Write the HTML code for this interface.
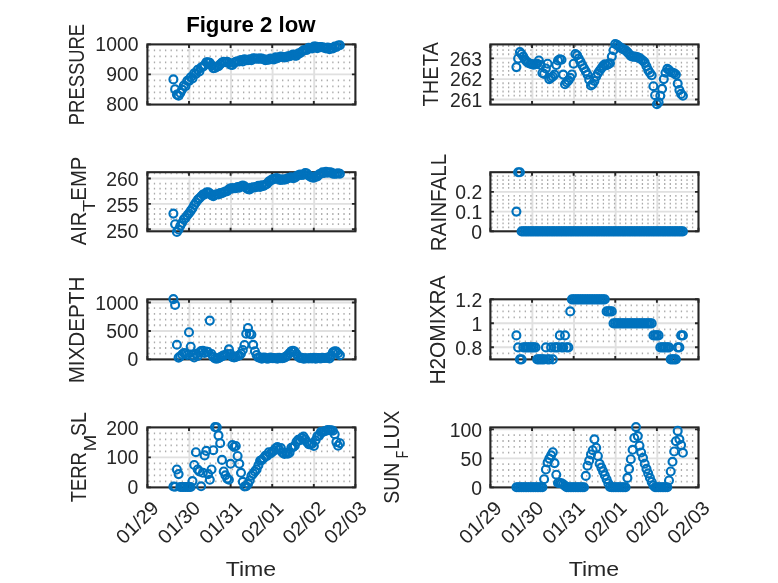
<!DOCTYPE html>
<html lang="en"><head><meta charset="utf-8"><title>Figure 2 low</title>
<style>html,body{margin:0;padding:0;background:#fff;overflow:hidden}svg{display:block}</style></head>
<body>
<svg width="778" height="583" viewBox="0 0 778 583" font-family='"Liberation Sans", "DejaVu Sans", sans-serif' fill="#262626">
<rect width="778" height="583" fill="#fff"/>
<g style="will-change:opacity">
<g>
<path d="M189.40 44.40V104.55M231.00 44.40V104.55M272.60 44.40V104.55M314.20 44.40V104.55M147.40 74.40H355.40" stroke="#e0e0e0" stroke-width="1.9" fill="none"/>
<path d="M148.25 50.40H354.20M148.25 56.40H354.20M148.25 62.40H354.20M148.25 68.40H354.20M148.25 80.40H354.20M148.25 86.40H354.20M148.25 92.40H354.20M148.25 98.40H354.20" stroke="#ababab" stroke-width="1.8" stroke-dasharray="1.3 4.275" fill="none"/>
<rect x="147.40" y="44.40" width="208.00" height="60.15" fill="none" stroke="#262626" stroke-width="2.1"/>
<path d="M147.40 44.40v3.5M147.40 104.55v-3.5M189.00 44.40v3.5M189.00 104.55v-3.5M230.60 44.40v3.5M230.60 104.55v-3.5M272.20 44.40v3.5M272.20 104.55v-3.5M313.80 44.40v3.5M313.80 104.55v-3.5M355.40 44.40v3.5M355.40 104.55v-3.5M147.40 44.40h3.5M355.40 44.40h-3.5M147.40 74.40h3.5M355.40 74.40h-3.5M147.40 104.40h3.5M355.40 104.40h-3.5" stroke="#262626" stroke-width="1.9" fill="none"/>
<g fill="none" stroke="#0072bd" stroke-width="2.15"><circle cx="173.4" cy="79.4" r="3.96"/><circle cx="175.1" cy="89.2" r="3.96"/><circle cx="176.9" cy="94.6" r="3.96"/><circle cx="178.6" cy="95.8" r="3.96"/><circle cx="180.3" cy="92.9" r="3.96"/><circle cx="182.1" cy="89.6" r="3.96"/><circle cx="183.8" cy="85.5" r="3.96"/><circle cx="185.5" cy="86.2" r="3.96"/><circle cx="187.3" cy="80.7" r="3.96"/><circle cx="189.0" cy="80.9" r="3.96"/><circle cx="190.7" cy="77.3" r="3.96"/><circle cx="192.5" cy="78.4" r="3.96"/><circle cx="194.2" cy="73.3" r="3.96"/><circle cx="195.9" cy="74.0" r="3.96"/><circle cx="197.7" cy="69.9" r="3.96"/><circle cx="199.4" cy="71.5" r="3.96"/><circle cx="201.1" cy="67.5" r="3.96"/><circle cx="202.9" cy="66.7" r="3.96"/><circle cx="204.6" cy="65.1" r="3.96"/><circle cx="206.3" cy="62.2" r="3.96"/><circle cx="208.1" cy="62.2" r="3.96"/><circle cx="209.8" cy="62.8" r="3.96"/><circle cx="211.5" cy="65.4" r="3.96"/><circle cx="213.3" cy="68.1" r="3.96"/><circle cx="215.0" cy="68.0" r="3.96"/><circle cx="216.8" cy="66.8" r="3.96"/><circle cx="218.5" cy="66.2" r="3.96"/><circle cx="220.2" cy="64.2" r="3.96"/><circle cx="222.0" cy="62.6" r="3.96"/><circle cx="223.7" cy="61.7" r="3.96"/><circle cx="225.4" cy="62.3" r="3.96"/><circle cx="227.2" cy="61.9" r="3.96"/><circle cx="228.9" cy="62.7" r="3.96"/><circle cx="230.6" cy="64.7" r="3.96"/><circle cx="232.4" cy="65.0" r="3.96"/><circle cx="234.1" cy="62.7" r="3.96"/><circle cx="235.8" cy="61.9" r="3.96"/><circle cx="237.6" cy="61.2" r="3.96"/><circle cx="239.3" cy="61.4" r="3.96"/><circle cx="241.0" cy="60.1" r="3.96"/><circle cx="242.8" cy="61.5" r="3.96"/><circle cx="244.5" cy="59.4" r="3.96"/><circle cx="246.2" cy="60.1" r="3.96"/><circle cx="248.0" cy="60.1" r="3.96"/><circle cx="249.7" cy="59.2" r="3.96"/><circle cx="251.4" cy="60.3" r="3.96"/><circle cx="253.2" cy="58.4" r="3.96"/><circle cx="254.9" cy="58.5" r="3.96"/><circle cx="256.6" cy="58.8" r="3.96"/><circle cx="258.4" cy="58.6" r="3.96"/><circle cx="260.1" cy="58.6" r="3.96"/><circle cx="261.8" cy="58.5" r="3.96"/><circle cx="263.6" cy="59.2" r="3.96"/><circle cx="265.3" cy="60.2" r="3.96"/><circle cx="267.0" cy="59.6" r="3.96"/><circle cx="268.8" cy="59.8" r="3.96"/><circle cx="270.5" cy="58.6" r="3.96"/><circle cx="272.2" cy="59.1" r="3.96"/><circle cx="274.0" cy="59.4" r="3.96"/><circle cx="275.7" cy="57.3" r="3.96"/><circle cx="277.4" cy="58.2" r="3.96"/><circle cx="279.2" cy="57.3" r="3.96"/><circle cx="280.9" cy="56.6" r="3.96"/><circle cx="282.6" cy="57.0" r="3.96"/><circle cx="284.4" cy="57.5" r="3.96"/><circle cx="286.1" cy="57.1" r="3.96"/><circle cx="287.8" cy="56.4" r="3.96"/><circle cx="289.6" cy="56.2" r="3.96"/><circle cx="291.3" cy="55.5" r="3.96"/><circle cx="293.0" cy="54.6" r="3.96"/><circle cx="294.8" cy="55.6" r="3.96"/><circle cx="296.5" cy="55.6" r="3.96"/><circle cx="298.2" cy="53.6" r="3.96"/><circle cx="300.0" cy="53.1" r="3.96"/><circle cx="301.7" cy="51.7" r="3.96"/><circle cx="303.5" cy="50.2" r="3.96"/><circle cx="305.2" cy="49.8" r="3.96"/><circle cx="306.9" cy="50.0" r="3.96"/><circle cx="308.7" cy="47.8" r="3.96"/><circle cx="310.4" cy="48.0" r="3.96"/><circle cx="312.1" cy="48.4" r="3.96"/><circle cx="313.9" cy="46.5" r="3.96"/><circle cx="315.6" cy="46.5" r="3.96"/><circle cx="317.3" cy="48.1" r="3.96"/><circle cx="319.1" cy="47.0" r="3.96"/><circle cx="320.8" cy="47.1" r="3.96"/><circle cx="322.5" cy="47.3" r="3.96"/><circle cx="324.3" cy="47.8" r="3.96"/><circle cx="326.0" cy="48.4" r="3.96"/><circle cx="327.7" cy="47.6" r="3.96"/><circle cx="329.5" cy="49.3" r="3.96"/><circle cx="331.2" cy="48.1" r="3.96"/><circle cx="332.9" cy="48.4" r="3.96"/><circle cx="334.7" cy="46.6" r="3.96"/><circle cx="336.4" cy="47.0" r="3.96"/><circle cx="338.1" cy="45.5" r="3.96"/><circle cx="339.9" cy="45.2" r="3.96"/></g>
</g>
<text transform="translate(95.34 51.05) scale(0.9850 1.0000)" font-size="19.7">1000</text>
<text transform="translate(106.18 81.10) scale(0.9850 1.0000)" font-size="19.7">900</text>
<text transform="translate(106.18 110.95) scale(0.9850 1.0000)" font-size="19.7">800</text>
<g>
<path d="M189.40 172.20V231.30M231.00 172.20V231.30M272.60 172.20V231.30M314.20 172.20V231.30M147.40 178.50H355.40M147.40 203.85H355.40M147.40 229.20H355.40" stroke="#e0e0e0" stroke-width="1.9" fill="none"/>
<path d="M148.25 173.43H354.20M148.25 183.57H354.20M148.25 188.64H354.20M148.25 193.71H354.20M148.25 198.78H354.20M148.25 208.92H354.20M148.25 213.99H354.20M148.25 219.06H354.20M148.25 224.13H354.20" stroke="#ababab" stroke-width="1.8" stroke-dasharray="1.3 4.275" fill="none"/>
<rect x="147.40" y="172.20" width="208.00" height="59.10" fill="none" stroke="#262626" stroke-width="2.1"/>
<path d="M147.40 172.20v3.5M147.40 231.30v-3.5M189.00 172.20v3.5M189.00 231.30v-3.5M230.60 172.20v3.5M230.60 231.30v-3.5M272.20 172.20v3.5M272.20 231.30v-3.5M313.80 172.20v3.5M313.80 231.30v-3.5M355.40 172.20v3.5M355.40 231.30v-3.5M147.40 178.50h3.5M355.40 178.50h-3.5M147.40 203.85h3.5M355.40 203.85h-3.5M147.40 229.20h3.5M355.40 229.20h-3.5" stroke="#262626" stroke-width="1.9" fill="none"/>
<g fill="none" stroke="#0072bd" stroke-width="2.15"><circle cx="173.4" cy="213.6" r="3.96"/><circle cx="175.1" cy="224.2" r="3.96"/><circle cx="176.9" cy="231.9" r="3.96"/><circle cx="178.6" cy="229.5" r="3.96"/><circle cx="180.3" cy="225.8" r="3.96"/><circle cx="182.1" cy="222.8" r="3.96"/><circle cx="183.8" cy="219.4" r="3.96"/><circle cx="185.5" cy="218.0" r="3.96"/><circle cx="187.3" cy="215.3" r="3.96"/><circle cx="189.0" cy="213.3" r="3.96"/><circle cx="190.7" cy="210.9" r="3.96"/><circle cx="192.5" cy="208.3" r="3.96"/><circle cx="194.2" cy="205.0" r="3.96"/><circle cx="195.9" cy="202.5" r="3.96"/><circle cx="197.7" cy="199.9" r="3.96"/><circle cx="199.4" cy="198.2" r="3.96"/><circle cx="201.1" cy="196.5" r="3.96"/><circle cx="202.9" cy="194.5" r="3.96"/><circle cx="204.6" cy="194.5" r="3.96"/><circle cx="206.3" cy="192.6" r="3.96"/><circle cx="208.1" cy="192.4" r="3.96"/><circle cx="209.8" cy="193.2" r="3.96"/><circle cx="211.5" cy="195.2" r="3.96"/><circle cx="213.3" cy="196.1" r="3.96"/><circle cx="215.0" cy="194.8" r="3.96"/><circle cx="216.8" cy="194.3" r="3.96"/><circle cx="218.5" cy="194.4" r="3.96"/><circle cx="220.2" cy="193.0" r="3.96"/><circle cx="222.0" cy="193.3" r="3.96"/><circle cx="223.7" cy="192.3" r="3.96"/><circle cx="225.4" cy="191.5" r="3.96"/><circle cx="227.2" cy="191.1" r="3.96"/><circle cx="228.9" cy="189.4" r="3.96"/><circle cx="230.6" cy="188.3" r="3.96"/><circle cx="232.4" cy="188.4" r="3.96"/><circle cx="234.1" cy="188.3" r="3.96"/><circle cx="235.8" cy="188.2" r="3.96"/><circle cx="237.6" cy="187.1" r="3.96"/><circle cx="239.3" cy="187.6" r="3.96"/><circle cx="241.0" cy="186.2" r="3.96"/><circle cx="242.8" cy="185.6" r="3.96"/><circle cx="244.5" cy="186.2" r="3.96"/><circle cx="246.2" cy="187.9" r="3.96"/><circle cx="248.0" cy="189.3" r="3.96"/><circle cx="249.7" cy="189.4" r="3.96"/><circle cx="251.4" cy="187.7" r="3.96"/><circle cx="253.2" cy="187.3" r="3.96"/><circle cx="254.9" cy="187.5" r="3.96"/><circle cx="256.6" cy="186.9" r="3.96"/><circle cx="258.4" cy="185.9" r="3.96"/><circle cx="260.1" cy="186.9" r="3.96"/><circle cx="261.8" cy="185.3" r="3.96"/><circle cx="263.6" cy="185.9" r="3.96"/><circle cx="265.3" cy="184.7" r="3.96"/><circle cx="267.0" cy="183.9" r="3.96"/><circle cx="268.8" cy="181.6" r="3.96"/><circle cx="270.5" cy="180.6" r="3.96"/><circle cx="272.2" cy="179.3" r="3.96"/><circle cx="274.0" cy="179.1" r="3.96"/><circle cx="275.7" cy="178.2" r="3.96"/><circle cx="277.4" cy="178.2" r="3.96"/><circle cx="279.2" cy="179.7" r="3.96"/><circle cx="280.9" cy="179.9" r="3.96"/><circle cx="282.6" cy="179.4" r="3.96"/><circle cx="284.4" cy="179.7" r="3.96"/><circle cx="286.1" cy="179.3" r="3.96"/><circle cx="287.8" cy="178.3" r="3.96"/><circle cx="289.6" cy="177.7" r="3.96"/><circle cx="291.3" cy="177.2" r="3.96"/><circle cx="293.0" cy="178.2" r="3.96"/><circle cx="294.8" cy="177.6" r="3.96"/><circle cx="296.5" cy="176.4" r="3.96"/><circle cx="298.2" cy="175.2" r="3.96"/><circle cx="300.0" cy="174.5" r="3.96"/><circle cx="301.7" cy="174.9" r="3.96"/><circle cx="303.5" cy="174.8" r="3.96"/><circle cx="305.2" cy="173.0" r="3.96"/><circle cx="306.9" cy="173.6" r="3.96"/><circle cx="308.7" cy="175.5" r="3.96"/><circle cx="310.4" cy="176.6" r="3.96"/><circle cx="312.1" cy="177.5" r="3.96"/><circle cx="313.9" cy="177.8" r="3.96"/><circle cx="315.6" cy="176.4" r="3.96"/><circle cx="317.3" cy="176.5" r="3.96"/><circle cx="319.1" cy="174.3" r="3.96"/><circle cx="320.8" cy="173.8" r="3.96"/><circle cx="322.5" cy="172.4" r="3.96"/><circle cx="324.3" cy="172.9" r="3.96"/><circle cx="326.0" cy="171.8" r="3.96"/><circle cx="327.7" cy="172.6" r="3.96"/><circle cx="329.5" cy="172.2" r="3.96"/><circle cx="331.2" cy="172.5" r="3.96"/><circle cx="332.9" cy="173.6" r="3.96"/><circle cx="334.7" cy="173.7" r="3.96"/><circle cx="336.4" cy="173.8" r="3.96"/><circle cx="338.1" cy="173.2" r="3.96"/><circle cx="339.9" cy="173.8" r="3.96"/></g>
</g>
<text transform="translate(106.18 186.25) scale(0.9850 1.0000)" font-size="19.7">260</text>
<text transform="translate(106.18 211.65) scale(0.9850 1.0000)" font-size="19.7">255</text>
<text transform="translate(106.18 237.65) scale(0.9850 1.0000)" font-size="19.7">250</text>
<g>
<path d="M189.40 299.30V359.40M231.00 299.30V359.40M272.60 299.30V359.40M314.20 299.30V359.40M147.40 302.50H355.40M147.40 330.95H355.40" stroke="#e0e0e0" stroke-width="1.9" fill="none"/>
<path d="M148.25 308.19H354.20M148.25 313.88H354.20M148.25 319.57H354.20M148.25 325.26H354.20M148.25 336.64H354.20M148.25 342.33H354.20M148.25 348.02H354.20M148.25 353.71H354.20" stroke="#ababab" stroke-width="1.8" stroke-dasharray="1.3 4.275" fill="none"/>
<rect x="147.40" y="299.30" width="208.00" height="60.10" fill="none" stroke="#262626" stroke-width="2.1"/>
<path d="M147.40 299.30v3.5M147.40 359.40v-3.5M189.00 299.30v3.5M189.00 359.40v-3.5M230.60 299.30v3.5M230.60 359.40v-3.5M272.20 299.30v3.5M272.20 359.40v-3.5M313.80 299.30v3.5M313.80 359.40v-3.5M355.40 299.30v3.5M355.40 359.40v-3.5M147.40 302.50h3.5M355.40 302.50h-3.5M147.40 330.95h3.5M355.40 330.95h-3.5M147.40 359.40h3.5M355.40 359.40h-3.5" stroke="#262626" stroke-width="1.9" fill="none"/>
<g fill="none" stroke="#0072bd" stroke-width="2.15"><circle cx="173.4" cy="299.1" r="3.96"/><circle cx="175.1" cy="304.9" r="3.96"/><circle cx="176.9" cy="344.8" r="3.96"/><circle cx="178.6" cy="357.6" r="3.96"/><circle cx="180.3" cy="356.5" r="3.96"/><circle cx="182.1" cy="354.5" r="3.96"/><circle cx="183.8" cy="353.0" r="3.96"/><circle cx="185.5" cy="353.5" r="3.96"/><circle cx="187.3" cy="355.0" r="3.96"/><circle cx="189.0" cy="332.2" r="3.96"/><circle cx="190.7" cy="346.7" r="3.96"/><circle cx="192.5" cy="355.5" r="3.96"/><circle cx="194.2" cy="357.5" r="3.96"/><circle cx="195.9" cy="354.0" r="3.96"/><circle cx="197.7" cy="356.0" r="3.96"/><circle cx="199.4" cy="352.5" r="3.96"/><circle cx="201.1" cy="351.0" r="3.96"/><circle cx="202.9" cy="350.8" r="3.96"/><circle cx="204.6" cy="353.0" r="3.96"/><circle cx="206.3" cy="351.5" r="3.96"/><circle cx="208.1" cy="352.0" r="3.96"/><circle cx="209.8" cy="320.6" r="3.96"/><circle cx="211.5" cy="354.0" r="3.96"/><circle cx="213.3" cy="357.0" r="3.96"/><circle cx="215.0" cy="358.5" r="3.96"/><circle cx="216.8" cy="358.8" r="3.96"/><circle cx="218.5" cy="358.3" r="3.96"/><circle cx="220.2" cy="357.3" r="3.96"/><circle cx="222.0" cy="356.3" r="3.96"/><circle cx="223.7" cy="355.4" r="3.96"/><circle cx="225.4" cy="355.0" r="3.96"/><circle cx="227.2" cy="354.0" r="3.96"/><circle cx="228.9" cy="349.3" r="3.96"/><circle cx="230.6" cy="354.0" r="3.96"/><circle cx="232.4" cy="357.0" r="3.96"/><circle cx="234.1" cy="357.5" r="3.96"/><circle cx="235.8" cy="357.0" r="3.96"/><circle cx="237.6" cy="356.0" r="3.96"/><circle cx="239.3" cy="355.5" r="3.96"/><circle cx="241.0" cy="353.6" r="3.96"/><circle cx="242.8" cy="350.0" r="3.96"/><circle cx="244.5" cy="345.0" r="3.96"/><circle cx="246.2" cy="333.8" r="3.96"/><circle cx="248.0" cy="328.0" r="3.96"/><circle cx="249.7" cy="333.8" r="3.96"/><circle cx="251.4" cy="334.5" r="3.96"/><circle cx="253.2" cy="344.8" r="3.96"/><circle cx="254.9" cy="351.2" r="3.96"/><circle cx="256.6" cy="355.0" r="3.96"/><circle cx="258.4" cy="357.5" r="3.96"/><circle cx="260.1" cy="357.6" r="3.96"/><circle cx="261.8" cy="358.6" r="3.96"/><circle cx="263.6" cy="357.5" r="3.96"/><circle cx="265.3" cy="357.8" r="3.96"/><circle cx="267.0" cy="358.7" r="3.96"/><circle cx="268.8" cy="358.4" r="3.96"/><circle cx="270.5" cy="357.6" r="3.96"/><circle cx="272.2" cy="358.1" r="3.96"/><circle cx="274.0" cy="358.1" r="3.96"/><circle cx="275.7" cy="358.2" r="3.96"/><circle cx="277.4" cy="358.6" r="3.96"/><circle cx="279.2" cy="357.8" r="3.96"/><circle cx="280.9" cy="358.3" r="3.96"/><circle cx="282.6" cy="358.3" r="3.96"/><circle cx="284.4" cy="357.6" r="3.96"/><circle cx="286.1" cy="356.6" r="3.96"/><circle cx="287.8" cy="355.0" r="3.96"/><circle cx="289.6" cy="353.0" r="3.96"/><circle cx="291.3" cy="351.2" r="3.96"/><circle cx="293.0" cy="350.7" r="3.96"/><circle cx="294.8" cy="351.5" r="3.96"/><circle cx="296.5" cy="354.0" r="3.96"/><circle cx="298.2" cy="356.5" r="3.96"/><circle cx="300.0" cy="358.0" r="3.96"/><circle cx="301.7" cy="357.8" r="3.96"/><circle cx="303.5" cy="358.6" r="3.96"/><circle cx="305.2" cy="358.4" r="3.96"/><circle cx="306.9" cy="358.2" r="3.96"/><circle cx="308.7" cy="358.5" r="3.96"/><circle cx="310.4" cy="358.1" r="3.96"/><circle cx="312.1" cy="358.5" r="3.96"/><circle cx="313.9" cy="357.7" r="3.96"/><circle cx="315.6" cy="358.7" r="3.96"/><circle cx="317.3" cy="358.1" r="3.96"/><circle cx="319.1" cy="358.1" r="3.96"/><circle cx="320.8" cy="358.5" r="3.96"/><circle cx="322.5" cy="357.9" r="3.96"/><circle cx="324.3" cy="358.0" r="3.96"/><circle cx="326.0" cy="358.0" r="3.96"/><circle cx="327.7" cy="357.5" r="3.96"/><circle cx="329.5" cy="358.4" r="3.96"/><circle cx="331.2" cy="355.5" r="3.96"/><circle cx="332.9" cy="352.3" r="3.96"/><circle cx="334.7" cy="351.2" r="3.96"/><circle cx="336.4" cy="351.6" r="3.96"/><circle cx="338.1" cy="353.2" r="3.96"/><circle cx="339.9" cy="355.2" r="3.96"/></g>
</g>
<text transform="translate(95.34 310.05) scale(0.9850 1.0000)" font-size="19.7">1000</text>
<text transform="translate(106.18 338.00) scale(0.9850 1.0000)" font-size="19.7">500</text>
<text transform="translate(127.60 365.95) scale(0.9850 1.0000)" font-size="19.7">0</text>
<g>
<path d="M189.40 427.40V487.40M231.00 427.40V487.40M272.60 427.40V487.40M314.20 427.40V487.40M147.40 457.40H355.40" stroke="#e0e0e0" stroke-width="1.9" fill="none"/>
<path d="M148.25 433.40H354.20M148.25 439.40H354.20M148.25 445.40H354.20M148.25 451.40H354.20M148.25 463.40H354.20M148.25 469.40H354.20M148.25 475.40H354.20M148.25 481.40H354.20" stroke="#ababab" stroke-width="1.8" stroke-dasharray="1.3 4.275" fill="none"/>
<rect x="147.40" y="427.40" width="208.00" height="60.00" fill="none" stroke="#262626" stroke-width="2.1"/>
<path d="M147.40 427.40v3.5M147.40 487.40v-3.5M189.00 427.40v3.5M189.00 487.40v-3.5M230.60 427.40v3.5M230.60 487.40v-3.5M272.20 427.40v3.5M272.20 487.40v-3.5M313.80 427.40v3.5M313.80 487.40v-3.5M355.40 427.40v3.5M355.40 487.40v-3.5M147.40 427.40h3.5M355.40 427.40h-3.5M147.40 457.40h3.5M355.40 457.40h-3.5M147.40 487.40h3.5M355.40 487.40h-3.5" stroke="#262626" stroke-width="1.9" fill="none"/>
<g fill="none" stroke="#0072bd" stroke-width="2.15"><circle cx="173.4" cy="486.5" r="3.96"/><circle cx="175.1" cy="486.8" r="3.96"/><circle cx="176.9" cy="469.5" r="3.96"/><circle cx="178.6" cy="474.1" r="3.96"/><circle cx="180.3" cy="487.0" r="3.96"/><circle cx="182.1" cy="487.0" r="3.96"/><circle cx="183.8" cy="487.0" r="3.96"/><circle cx="185.5" cy="487.0" r="3.96"/><circle cx="187.3" cy="487.0" r="3.96"/><circle cx="189.0" cy="487.0" r="3.96"/><circle cx="190.7" cy="487.0" r="3.96"/><circle cx="192.5" cy="481.1" r="3.96"/><circle cx="194.2" cy="465.0" r="3.96"/><circle cx="195.9" cy="452.2" r="3.96"/><circle cx="197.7" cy="469.5" r="3.96"/><circle cx="199.4" cy="471.5" r="3.96"/><circle cx="201.1" cy="486.3" r="3.96"/><circle cx="202.9" cy="472.8" r="3.96"/><circle cx="204.6" cy="455.4" r="3.96"/><circle cx="206.3" cy="450.9" r="3.96"/><circle cx="208.1" cy="474.1" r="3.96"/><circle cx="209.8" cy="479.8" r="3.96"/><circle cx="211.5" cy="469.5" r="3.96"/><circle cx="213.3" cy="450.2" r="3.96"/><circle cx="215.0" cy="427.1" r="3.96"/><circle cx="216.8" cy="427.3" r="3.96"/><circle cx="218.5" cy="435.4" r="3.96"/><circle cx="220.2" cy="443.2" r="3.96"/><circle cx="222.0" cy="459.9" r="3.96"/><circle cx="223.7" cy="471.5" r="3.96"/><circle cx="225.4" cy="475.3" r="3.96"/><circle cx="227.2" cy="478.6" r="3.96"/><circle cx="228.9" cy="479.8" r="3.96"/><circle cx="230.6" cy="463.8" r="3.96"/><circle cx="232.4" cy="445.1" r="3.96"/><circle cx="234.1" cy="447.0" r="3.96"/><circle cx="235.8" cy="446.0" r="3.96"/><circle cx="237.6" cy="456.0" r="3.96"/><circle cx="239.3" cy="463.8" r="3.96"/><circle cx="241.0" cy="472.8" r="3.96"/><circle cx="242.8" cy="481.8" r="3.96"/><circle cx="244.5" cy="486.5" r="3.96"/><circle cx="246.2" cy="486.3" r="3.96"/><circle cx="248.0" cy="483.9" r="3.96"/><circle cx="249.7" cy="480.5" r="3.96"/><circle cx="251.4" cy="475.7" r="3.96"/><circle cx="253.2" cy="473.6" r="3.96"/><circle cx="254.9" cy="471.4" r="3.96"/><circle cx="256.6" cy="469.4" r="3.96"/><circle cx="258.4" cy="465.3" r="3.96"/><circle cx="260.1" cy="460.8" r="3.96"/><circle cx="261.8" cy="460.1" r="3.96"/><circle cx="263.6" cy="458.2" r="3.96"/><circle cx="265.3" cy="455.9" r="3.96"/><circle cx="267.0" cy="455.9" r="3.96"/><circle cx="268.8" cy="452.2" r="3.96"/><circle cx="270.5" cy="453.5" r="3.96"/><circle cx="272.2" cy="451.9" r="3.96"/><circle cx="274.0" cy="450.4" r="3.96"/><circle cx="275.7" cy="448.3" r="3.96"/><circle cx="277.4" cy="447.1" r="3.96"/><circle cx="279.2" cy="449.7" r="3.96"/><circle cx="280.9" cy="448.1" r="3.96"/><circle cx="282.6" cy="452.8" r="3.96"/><circle cx="284.4" cy="454.0" r="3.96"/><circle cx="286.1" cy="453.0" r="3.96"/><circle cx="287.8" cy="453.6" r="3.96"/><circle cx="289.6" cy="452.6" r="3.96"/><circle cx="291.3" cy="447.7" r="3.96"/><circle cx="293.0" cy="447.2" r="3.96"/><circle cx="294.8" cy="445.7" r="3.96"/><circle cx="296.5" cy="441.8" r="3.96"/><circle cx="298.2" cy="439.8" r="3.96"/><circle cx="300.0" cy="440.2" r="3.96"/><circle cx="301.7" cy="437.9" r="3.96"/><circle cx="303.5" cy="436.5" r="3.96"/><circle cx="305.2" cy="439.3" r="3.96"/><circle cx="306.9" cy="442.0" r="3.96"/><circle cx="308.7" cy="444.1" r="3.96"/><circle cx="310.4" cy="444.4" r="3.96"/><circle cx="312.1" cy="443.8" r="3.96"/><circle cx="313.9" cy="446.0" r="3.96"/><circle cx="315.6" cy="440.3" r="3.96"/><circle cx="317.3" cy="436.2" r="3.96"/><circle cx="319.1" cy="435.8" r="3.96"/><circle cx="320.8" cy="432.0" r="3.96"/><circle cx="322.5" cy="432.1" r="3.96"/><circle cx="324.3" cy="431.2" r="3.96"/><circle cx="326.0" cy="430.8" r="3.96"/><circle cx="327.7" cy="430.1" r="3.96"/><circle cx="329.5" cy="430.2" r="3.96"/><circle cx="331.2" cy="430.2" r="3.96"/><circle cx="332.9" cy="430.7" r="3.96"/><circle cx="334.7" cy="434.2" r="3.96"/><circle cx="336.4" cy="441.9" r="3.96"/><circle cx="338.1" cy="445.7" r="3.96"/><circle cx="339.9" cy="443.2" r="3.96"/></g>
</g>
<text transform="translate(106.18 435.15) scale(0.9850 1.0000)" font-size="19.7">200</text>
<text transform="translate(106.18 464.35) scale(0.9850 1.0000)" font-size="19.7">100</text>
<text transform="translate(127.60 494.05) scale(0.9850 1.0000)" font-size="19.7">0</text>
<g>
<path d="M532.42 44.40V104.55M574.04 44.40V104.55M615.66 44.40V104.55M657.28 44.40V104.55M490.40 58.40H698.50M490.40 79.10H698.50M490.40 99.50H698.50" stroke="#e0e0e0" stroke-width="1.9" fill="none"/>
<path d="M491.25 45.98H697.30M491.25 50.12H697.30M491.25 54.26H697.30M491.25 62.54H697.30M491.25 66.68H697.30M491.25 70.82H697.30M491.25 74.96H697.30M491.25 83.24H697.30M491.25 87.38H697.30M491.25 91.52H697.30M491.25 95.66H697.30" stroke="#ababab" stroke-width="1.8" stroke-dasharray="1.3 4.275" fill="none"/>
<rect x="490.40" y="44.40" width="208.10" height="60.15" fill="none" stroke="#262626" stroke-width="2.1"/>
<path d="M490.40 44.40v3.5M490.40 104.55v-3.5M532.02 44.40v3.5M532.02 104.55v-3.5M573.64 44.40v3.5M573.64 104.55v-3.5M615.26 44.40v3.5M615.26 104.55v-3.5M656.88 44.40v3.5M656.88 104.55v-3.5M698.50 44.40v3.5M698.50 104.55v-3.5M490.40 58.40h3.5M698.50 58.40h-3.5M490.40 79.10h3.5M698.50 79.10h-3.5M490.40 99.50h3.5M698.50 99.50h-3.5" stroke="#262626" stroke-width="1.9" fill="none"/>
<g fill="none" stroke="#0072bd" stroke-width="2.15"><circle cx="516.4" cy="67.1" r="3.96"/><circle cx="518.1" cy="58.5" r="3.96"/><circle cx="519.9" cy="52.1" r="3.96"/><circle cx="521.6" cy="54.0" r="3.96"/><circle cx="523.3" cy="56.6" r="3.96"/><circle cx="525.1" cy="59.8" r="3.96"/><circle cx="526.8" cy="61.7" r="3.96"/><circle cx="528.5" cy="63.0" r="3.96"/><circle cx="530.3" cy="63.7" r="3.96"/><circle cx="532.0" cy="64.3" r="3.96"/><circle cx="533.7" cy="64.6" r="3.96"/><circle cx="535.5" cy="64.3" r="3.96"/><circle cx="537.2" cy="63.7" r="3.96"/><circle cx="538.9" cy="60.5" r="3.96"/><circle cx="540.7" cy="65.0" r="3.96"/><circle cx="542.4" cy="73.0" r="3.96"/><circle cx="544.1" cy="74.0" r="3.96"/><circle cx="545.9" cy="68.5" r="3.96"/><circle cx="547.6" cy="63.7" r="3.96"/><circle cx="549.3" cy="79.1" r="3.96"/><circle cx="551.1" cy="77.8" r="3.96"/><circle cx="552.8" cy="76.5" r="3.96"/><circle cx="554.5" cy="74.6" r="3.96"/><circle cx="556.3" cy="65.0" r="3.96"/><circle cx="558.0" cy="60.5" r="3.96"/><circle cx="559.8" cy="59.2" r="3.96"/><circle cx="561.5" cy="59.8" r="3.96"/><circle cx="563.2" cy="74.6" r="3.96"/><circle cx="565.0" cy="84.3" r="3.96"/><circle cx="566.7" cy="82.3" r="3.96"/><circle cx="568.4" cy="80.4" r="3.96"/><circle cx="570.2" cy="77.8" r="3.96"/><circle cx="571.9" cy="74.5" r="3.96"/><circle cx="573.6" cy="63.7" r="3.96"/><circle cx="575.4" cy="54.0" r="3.96"/><circle cx="577.1" cy="55.3" r="3.96"/><circle cx="578.8" cy="58.5" r="3.96"/><circle cx="580.6" cy="61.7" r="3.96"/><circle cx="582.3" cy="65.3" r="3.96"/><circle cx="584.0" cy="68.2" r="3.96"/><circle cx="585.8" cy="71.4" r="3.96"/><circle cx="587.5" cy="74.6" r="3.96"/><circle cx="589.2" cy="79.8" r="3.96"/><circle cx="591.0" cy="85.5" r="3.96"/><circle cx="592.7" cy="84.3" r="3.96"/><circle cx="594.4" cy="81.0" r="3.96"/><circle cx="596.2" cy="76.5" r="3.96"/><circle cx="597.9" cy="73.3" r="3.96"/><circle cx="599.6" cy="70.7" r="3.96"/><circle cx="601.4" cy="68.2" r="3.96"/><circle cx="603.1" cy="65.9" r="3.96"/><circle cx="604.8" cy="64.4" r="3.96"/><circle cx="606.6" cy="65.3" r="3.96"/><circle cx="608.3" cy="64.1" r="3.96"/><circle cx="610.0" cy="63.3" r="3.96"/><circle cx="611.8" cy="56.6" r="3.96"/><circle cx="613.5" cy="50.2" r="3.96"/><circle cx="615.2" cy="44.0" r="3.96"/><circle cx="617.0" cy="44.8" r="3.96"/><circle cx="618.7" cy="46.3" r="3.96"/><circle cx="620.4" cy="47.6" r="3.96"/><circle cx="622.2" cy="48.6" r="3.96"/><circle cx="623.9" cy="49.5" r="3.96"/><circle cx="625.6" cy="50.4" r="3.96"/><circle cx="627.4" cy="52.1" r="3.96"/><circle cx="629.1" cy="54.0" r="3.96"/><circle cx="630.8" cy="55.9" r="3.96"/><circle cx="632.6" cy="56.6" r="3.96"/><circle cx="634.3" cy="56.6" r="3.96"/><circle cx="636.0" cy="56.8" r="3.96"/><circle cx="637.8" cy="57.4" r="3.96"/><circle cx="639.5" cy="58.1" r="3.96"/><circle cx="641.2" cy="59.2" r="3.96"/><circle cx="643.0" cy="60.7" r="3.96"/><circle cx="644.7" cy="62.4" r="3.96"/><circle cx="646.5" cy="66.2" r="3.96"/><circle cx="648.2" cy="70.1" r="3.96"/><circle cx="649.9" cy="72.7" r="3.96"/><circle cx="651.7" cy="75.3" r="3.96"/><circle cx="653.4" cy="86.2" r="3.96"/><circle cx="655.1" cy="95.2" r="3.96"/><circle cx="656.9" cy="104.2" r="3.96"/><circle cx="658.6" cy="102.3" r="3.96"/><circle cx="660.3" cy="95.8" r="3.96"/><circle cx="662.1" cy="88.8" r="3.96"/><circle cx="663.8" cy="79.1" r="3.96"/><circle cx="665.5" cy="72.7" r="3.96"/><circle cx="667.3" cy="68.8" r="3.96"/><circle cx="669.0" cy="70.1" r="3.96"/><circle cx="670.7" cy="72.0" r="3.96"/><circle cx="672.5" cy="72.7" r="3.96"/><circle cx="674.2" cy="73.3" r="3.96"/><circle cx="675.9" cy="74.6" r="3.96"/><circle cx="677.7" cy="83.6" r="3.96"/><circle cx="679.4" cy="90.1" r="3.96"/><circle cx="681.1" cy="93.9" r="3.96"/><circle cx="682.9" cy="95.8" r="3.96"/></g>
</g>
<text transform="translate(449.78 65.70) scale(0.9850 1.0000)" font-size="19.7">263</text>
<text transform="translate(450.03 86.30) scale(0.9850 1.0000)" font-size="19.7">262</text>
<text transform="translate(450.03 106.90) scale(0.9850 1.0000)" font-size="19.7">261</text>
<g>
<path d="M532.42 172.20V231.30M574.04 172.20V231.30M615.66 172.20V231.30M657.28 172.20V231.30M490.40 191.90H698.50M490.40 211.60H698.50" stroke="#e0e0e0" stroke-width="1.9" fill="none"/>
<path d="M491.25 176.14H697.30M491.25 180.08H697.30M491.25 184.02H697.30M491.25 187.96H697.30M491.25 195.84H697.30M491.25 199.78H697.30M491.25 203.72H697.30M491.25 207.66H697.30M491.25 215.54H697.30M491.25 219.48H697.30M491.25 223.42H697.30M491.25 227.36H697.30" stroke="#ababab" stroke-width="1.8" stroke-dasharray="1.3 4.275" fill="none"/>
<rect x="490.40" y="172.20" width="208.10" height="59.10" fill="none" stroke="#262626" stroke-width="2.1"/>
<path d="M490.40 172.20v3.5M490.40 231.30v-3.5M532.02 172.20v3.5M532.02 231.30v-3.5M573.64 172.20v3.5M573.64 231.30v-3.5M615.26 172.20v3.5M615.26 231.30v-3.5M656.88 172.20v3.5M656.88 231.30v-3.5M698.50 172.20v3.5M698.50 231.30v-3.5M490.40 191.90h3.5M698.50 191.90h-3.5M490.40 211.60h3.5M698.50 211.60h-3.5M490.40 231.30h3.5M698.50 231.30h-3.5" stroke="#262626" stroke-width="1.9" fill="none"/>
<g fill="none" stroke="#0072bd" stroke-width="2.15"><circle cx="516.4" cy="211.6" r="3.96"/><circle cx="518.1" cy="172.2" r="3.96"/><circle cx="519.9" cy="172.2" r="3.96"/><circle cx="521.6" cy="231.4" r="3.96"/><circle cx="523.3" cy="231.4" r="3.96"/><circle cx="525.1" cy="231.4" r="3.96"/><circle cx="526.8" cy="231.4" r="3.96"/><circle cx="528.5" cy="231.4" r="3.96"/><circle cx="530.3" cy="231.4" r="3.96"/><circle cx="532.0" cy="231.4" r="3.96"/><circle cx="533.7" cy="231.4" r="3.96"/><circle cx="535.5" cy="231.4" r="3.96"/><circle cx="537.2" cy="231.4" r="3.96"/><circle cx="538.9" cy="231.4" r="3.96"/><circle cx="540.7" cy="231.4" r="3.96"/><circle cx="542.4" cy="231.4" r="3.96"/><circle cx="544.1" cy="231.4" r="3.96"/><circle cx="545.9" cy="231.4" r="3.96"/><circle cx="547.6" cy="231.4" r="3.96"/><circle cx="549.3" cy="231.4" r="3.96"/><circle cx="551.1" cy="231.4" r="3.96"/><circle cx="552.8" cy="231.4" r="3.96"/><circle cx="554.5" cy="231.4" r="3.96"/><circle cx="556.3" cy="231.4" r="3.96"/><circle cx="558.0" cy="231.4" r="3.96"/><circle cx="559.8" cy="231.4" r="3.96"/><circle cx="561.5" cy="231.4" r="3.96"/><circle cx="563.2" cy="231.4" r="3.96"/><circle cx="565.0" cy="231.4" r="3.96"/><circle cx="566.7" cy="231.4" r="3.96"/><circle cx="568.4" cy="231.4" r="3.96"/><circle cx="570.2" cy="231.4" r="3.96"/><circle cx="571.9" cy="231.4" r="3.96"/><circle cx="573.6" cy="231.4" r="3.96"/><circle cx="575.4" cy="231.4" r="3.96"/><circle cx="577.1" cy="231.4" r="3.96"/><circle cx="578.8" cy="231.4" r="3.96"/><circle cx="580.6" cy="231.4" r="3.96"/><circle cx="582.3" cy="231.4" r="3.96"/><circle cx="584.0" cy="231.4" r="3.96"/><circle cx="585.8" cy="231.4" r="3.96"/><circle cx="587.5" cy="231.4" r="3.96"/><circle cx="589.2" cy="231.4" r="3.96"/><circle cx="591.0" cy="231.4" r="3.96"/><circle cx="592.7" cy="231.4" r="3.96"/><circle cx="594.4" cy="231.4" r="3.96"/><circle cx="596.2" cy="231.4" r="3.96"/><circle cx="597.9" cy="231.4" r="3.96"/><circle cx="599.6" cy="231.4" r="3.96"/><circle cx="601.4" cy="231.4" r="3.96"/><circle cx="603.1" cy="231.4" r="3.96"/><circle cx="604.8" cy="231.4" r="3.96"/><circle cx="606.6" cy="231.4" r="3.96"/><circle cx="608.3" cy="231.4" r="3.96"/><circle cx="610.0" cy="231.4" r="3.96"/><circle cx="611.8" cy="231.4" r="3.96"/><circle cx="613.5" cy="231.4" r="3.96"/><circle cx="615.2" cy="231.4" r="3.96"/><circle cx="617.0" cy="231.4" r="3.96"/><circle cx="618.7" cy="231.4" r="3.96"/><circle cx="620.4" cy="231.4" r="3.96"/><circle cx="622.2" cy="231.4" r="3.96"/><circle cx="623.9" cy="231.4" r="3.96"/><circle cx="625.6" cy="231.4" r="3.96"/><circle cx="627.4" cy="231.4" r="3.96"/><circle cx="629.1" cy="231.4" r="3.96"/><circle cx="630.8" cy="231.4" r="3.96"/><circle cx="632.6" cy="231.4" r="3.96"/><circle cx="634.3" cy="231.4" r="3.96"/><circle cx="636.0" cy="231.4" r="3.96"/><circle cx="637.8" cy="231.4" r="3.96"/><circle cx="639.5" cy="231.4" r="3.96"/><circle cx="641.2" cy="231.4" r="3.96"/><circle cx="643.0" cy="231.4" r="3.96"/><circle cx="644.7" cy="231.4" r="3.96"/><circle cx="646.5" cy="231.4" r="3.96"/><circle cx="648.2" cy="231.4" r="3.96"/><circle cx="649.9" cy="231.4" r="3.96"/><circle cx="651.7" cy="231.4" r="3.96"/><circle cx="653.4" cy="231.4" r="3.96"/><circle cx="655.1" cy="231.4" r="3.96"/><circle cx="656.9" cy="231.4" r="3.96"/><circle cx="658.6" cy="231.4" r="3.96"/><circle cx="660.3" cy="231.4" r="3.96"/><circle cx="662.1" cy="231.4" r="3.96"/><circle cx="663.8" cy="231.4" r="3.96"/><circle cx="665.5" cy="231.4" r="3.96"/><circle cx="667.3" cy="231.4" r="3.96"/><circle cx="669.0" cy="231.4" r="3.96"/><circle cx="670.7" cy="231.4" r="3.96"/><circle cx="672.5" cy="231.4" r="3.96"/><circle cx="674.2" cy="231.4" r="3.96"/><circle cx="675.9" cy="231.4" r="3.96"/><circle cx="677.7" cy="231.4" r="3.96"/><circle cx="679.4" cy="231.4" r="3.96"/><circle cx="681.1" cy="231.4" r="3.96"/><circle cx="682.9" cy="231.4" r="3.96"/></g>
</g>
<text transform="translate(455.20 198.90) scale(0.9850 1.0000)" font-size="19.7">0.2</text>
<text transform="translate(455.20 218.65) scale(0.9850 1.0000)" font-size="19.7">0.1</text>
<text transform="translate(471.20 238.95) scale(0.9850 1.0000)" font-size="19.7">0</text>
<g>
<path d="M532.42 299.30V359.40M574.04 299.30V359.40M615.66 299.30V359.40M657.28 299.30V359.40M490.40 323.30H698.50M490.40 347.30H698.50" stroke="#e0e0e0" stroke-width="1.9" fill="none"/>
<path d="M491.25 305.30H697.30M491.25 311.30H697.30M491.25 317.30H697.30M491.25 329.30H697.30M491.25 335.30H697.30M491.25 341.30H697.30M491.25 353.30H697.30" stroke="#ababab" stroke-width="1.8" stroke-dasharray="1.3 4.275" fill="none"/>
<rect x="490.40" y="299.30" width="208.10" height="60.10" fill="none" stroke="#262626" stroke-width="2.1"/>
<path d="M490.40 299.30v3.5M490.40 359.40v-3.5M532.02 299.30v3.5M532.02 359.40v-3.5M573.64 299.30v3.5M573.64 359.40v-3.5M615.26 299.30v3.5M615.26 359.40v-3.5M656.88 299.30v3.5M656.88 359.40v-3.5M698.50 299.30v3.5M698.50 359.40v-3.5M490.40 299.30h3.5M698.50 299.30h-3.5M490.40 323.30h3.5M698.50 323.30h-3.5M490.40 347.30h3.5M698.50 347.30h-3.5" stroke="#262626" stroke-width="1.9" fill="none"/>
<g fill="none" stroke="#0072bd" stroke-width="2.15"><circle cx="516.4" cy="335.4" r="3.96"/><circle cx="518.1" cy="347.4" r="3.96"/><circle cx="519.9" cy="359.4" r="3.96"/><circle cx="521.6" cy="359.4" r="3.96"/><circle cx="523.3" cy="347.4" r="3.96"/><circle cx="525.1" cy="347.4" r="3.96"/><circle cx="526.8" cy="347.4" r="3.96"/><circle cx="528.5" cy="347.4" r="3.96"/><circle cx="530.3" cy="347.4" r="3.96"/><circle cx="532.0" cy="347.4" r="3.96"/><circle cx="533.7" cy="347.4" r="3.96"/><circle cx="535.5" cy="347.4" r="3.96"/><circle cx="537.2" cy="359.4" r="3.96"/><circle cx="538.9" cy="359.4" r="3.96"/><circle cx="540.7" cy="359.4" r="3.96"/><circle cx="542.4" cy="359.4" r="3.96"/><circle cx="544.1" cy="359.4" r="3.96"/><circle cx="545.9" cy="347.4" r="3.96"/><circle cx="547.6" cy="359.4" r="3.96"/><circle cx="549.3" cy="359.4" r="3.96"/><circle cx="551.1" cy="347.4" r="3.96"/><circle cx="552.8" cy="359.4" r="3.96"/><circle cx="554.5" cy="347.4" r="3.96"/><circle cx="556.3" cy="347.4" r="3.96"/><circle cx="558.0" cy="347.4" r="3.96"/><circle cx="559.8" cy="335.4" r="3.96"/><circle cx="561.5" cy="347.4" r="3.96"/><circle cx="563.2" cy="347.4" r="3.96"/><circle cx="565.0" cy="335.4" r="3.96"/><circle cx="566.7" cy="347.4" r="3.96"/><circle cx="568.4" cy="347.4" r="3.96"/><circle cx="570.2" cy="311.4" r="3.96"/><circle cx="571.9" cy="299.4" r="3.96"/><circle cx="573.6" cy="299.4" r="3.96"/><circle cx="575.4" cy="299.4" r="3.96"/><circle cx="577.1" cy="299.4" r="3.96"/><circle cx="578.8" cy="299.4" r="3.96"/><circle cx="580.6" cy="299.4" r="3.96"/><circle cx="582.3" cy="299.4" r="3.96"/><circle cx="584.0" cy="299.4" r="3.96"/><circle cx="585.8" cy="299.4" r="3.96"/><circle cx="587.5" cy="299.4" r="3.96"/><circle cx="589.2" cy="299.4" r="3.96"/><circle cx="591.0" cy="299.4" r="3.96"/><circle cx="592.7" cy="299.4" r="3.96"/><circle cx="594.4" cy="299.4" r="3.96"/><circle cx="596.2" cy="299.4" r="3.96"/><circle cx="597.9" cy="299.4" r="3.96"/><circle cx="599.6" cy="299.4" r="3.96"/><circle cx="601.4" cy="299.4" r="3.96"/><circle cx="603.1" cy="299.4" r="3.96"/><circle cx="604.8" cy="299.4" r="3.96"/><circle cx="606.6" cy="311.4" r="3.96"/><circle cx="608.3" cy="311.4" r="3.96"/><circle cx="610.0" cy="311.4" r="3.96"/><circle cx="611.8" cy="311.4" r="3.96"/><circle cx="613.5" cy="323.4" r="3.96"/><circle cx="615.2" cy="323.4" r="3.96"/><circle cx="617.0" cy="323.4" r="3.96"/><circle cx="618.7" cy="323.4" r="3.96"/><circle cx="620.4" cy="323.4" r="3.96"/><circle cx="622.2" cy="323.4" r="3.96"/><circle cx="623.9" cy="323.4" r="3.96"/><circle cx="625.6" cy="323.4" r="3.96"/><circle cx="627.4" cy="323.4" r="3.96"/><circle cx="629.1" cy="323.4" r="3.96"/><circle cx="630.8" cy="323.4" r="3.96"/><circle cx="632.6" cy="323.4" r="3.96"/><circle cx="634.3" cy="323.4" r="3.96"/><circle cx="636.0" cy="323.4" r="3.96"/><circle cx="637.8" cy="323.4" r="3.96"/><circle cx="639.5" cy="323.4" r="3.96"/><circle cx="641.2" cy="323.4" r="3.96"/><circle cx="643.0" cy="323.4" r="3.96"/><circle cx="644.7" cy="323.4" r="3.96"/><circle cx="646.5" cy="323.4" r="3.96"/><circle cx="648.2" cy="323.4" r="3.96"/><circle cx="649.9" cy="323.4" r="3.96"/><circle cx="651.7" cy="323.4" r="3.96"/><circle cx="653.4" cy="335.4" r="3.96"/><circle cx="655.1" cy="335.4" r="3.96"/><circle cx="656.9" cy="335.4" r="3.96"/><circle cx="658.6" cy="335.4" r="3.96"/><circle cx="660.3" cy="347.4" r="3.96"/><circle cx="662.1" cy="347.4" r="3.96"/><circle cx="663.8" cy="347.4" r="3.96"/><circle cx="665.5" cy="347.4" r="3.96"/><circle cx="667.3" cy="347.4" r="3.96"/><circle cx="669.0" cy="347.4" r="3.96"/><circle cx="670.7" cy="359.4" r="3.96"/><circle cx="672.5" cy="359.4" r="3.96"/><circle cx="674.2" cy="359.4" r="3.96"/><circle cx="675.9" cy="359.4" r="3.96"/><circle cx="677.7" cy="347.4" r="3.96"/><circle cx="679.4" cy="347.4" r="3.96"/><circle cx="681.1" cy="335.4" r="3.96"/><circle cx="682.9" cy="335.4" r="3.96"/></g>
</g>
<text transform="translate(455.20 307.27) scale(0.9850 1.0000)" font-size="19.7">1.2</text>
<text transform="translate(471.45 331.05) scale(0.9850 1.0000)" font-size="19.7">1</text>
<text transform="translate(455.20 355.15) scale(0.9850 1.0000)" font-size="19.7">0.8</text>
<g>
<path d="M532.42 427.40V487.40M574.04 427.40V487.40M615.66 427.40V487.40M657.28 427.40V487.40M490.40 429.40H698.50M490.40 458.40H698.50" stroke="#e0e0e0" stroke-width="1.9" fill="none"/>
<path d="M491.25 435.20H697.30M491.25 441.00H697.30M491.25 446.80H697.30M491.25 452.60H697.30M491.25 464.20H697.30M491.25 470.00H697.30M491.25 475.80H697.30M491.25 481.60H697.30" stroke="#ababab" stroke-width="1.8" stroke-dasharray="1.3 4.275" fill="none"/>
<rect x="490.40" y="427.40" width="208.10" height="60.00" fill="none" stroke="#262626" stroke-width="2.1"/>
<path d="M490.40 427.40v3.5M490.40 487.40v-3.5M532.02 427.40v3.5M532.02 487.40v-3.5M573.64 427.40v3.5M573.64 487.40v-3.5M615.26 427.40v3.5M615.26 487.40v-3.5M656.88 427.40v3.5M656.88 487.40v-3.5M698.50 427.40v3.5M698.50 487.40v-3.5M490.40 429.40h3.5M698.50 429.40h-3.5M490.40 458.40h3.5M698.50 458.40h-3.5M490.40 487.40h3.5M698.50 487.40h-3.5" stroke="#262626" stroke-width="1.9" fill="none"/>
<g fill="none" stroke="#0072bd" stroke-width="2.15"><circle cx="516.4" cy="487.3" r="3.96"/><circle cx="518.1" cy="487.3" r="3.96"/><circle cx="519.9" cy="487.3" r="3.96"/><circle cx="521.6" cy="487.3" r="3.96"/><circle cx="523.3" cy="487.3" r="3.96"/><circle cx="525.1" cy="487.3" r="3.96"/><circle cx="526.8" cy="487.3" r="3.96"/><circle cx="528.5" cy="487.3" r="3.96"/><circle cx="530.3" cy="487.3" r="3.96"/><circle cx="532.0" cy="487.3" r="3.96"/><circle cx="533.7" cy="487.3" r="3.96"/><circle cx="535.5" cy="487.3" r="3.96"/><circle cx="537.2" cy="487.3" r="3.96"/><circle cx="538.9" cy="487.3" r="3.96"/><circle cx="540.7" cy="487.3" r="3.96"/><circle cx="542.4" cy="487.3" r="3.96"/><circle cx="544.1" cy="479.2" r="3.96"/><circle cx="545.9" cy="469.5" r="3.96"/><circle cx="547.6" cy="462.4" r="3.96"/><circle cx="549.3" cy="458.6" r="3.96"/><circle cx="551.1" cy="455.4" r="3.96"/><circle cx="552.8" cy="452.2" r="3.96"/><circle cx="554.5" cy="463.1" r="3.96"/><circle cx="556.3" cy="474.7" r="3.96"/><circle cx="558.0" cy="483.0" r="3.96"/><circle cx="559.8" cy="483.0" r="3.96"/><circle cx="561.5" cy="483.3" r="3.96"/><circle cx="563.2" cy="484.3" r="3.96"/><circle cx="565.0" cy="485.9" r="3.96"/><circle cx="566.7" cy="487.3" r="3.96"/><circle cx="568.4" cy="487.3" r="3.96"/><circle cx="570.2" cy="487.3" r="3.96"/><circle cx="571.9" cy="487.3" r="3.96"/><circle cx="573.6" cy="487.3" r="3.96"/><circle cx="575.4" cy="487.3" r="3.96"/><circle cx="577.1" cy="487.3" r="3.96"/><circle cx="578.8" cy="487.3" r="3.96"/><circle cx="580.6" cy="487.3" r="3.96"/><circle cx="582.3" cy="487.3" r="3.96"/><circle cx="584.0" cy="487.3" r="3.96"/><circle cx="585.8" cy="475.9" r="3.96"/><circle cx="587.5" cy="465.7" r="3.96"/><circle cx="589.2" cy="460.5" r="3.96"/><circle cx="591.0" cy="454.5" r="3.96"/><circle cx="592.7" cy="450.2" r="3.96"/><circle cx="594.4" cy="439.3" r="3.96"/><circle cx="596.2" cy="447.7" r="3.96"/><circle cx="597.9" cy="456.0" r="3.96"/><circle cx="599.6" cy="463.8" r="3.96"/><circle cx="601.4" cy="467.6" r="3.96"/><circle cx="603.1" cy="471.4" r="3.96"/><circle cx="604.8" cy="475.3" r="3.96"/><circle cx="606.6" cy="479.2" r="3.96"/><circle cx="608.3" cy="483.3" r="3.96"/><circle cx="610.0" cy="487.0" r="3.96"/><circle cx="611.8" cy="487.3" r="3.96"/><circle cx="613.5" cy="487.3" r="3.96"/><circle cx="615.2" cy="487.3" r="3.96"/><circle cx="617.0" cy="487.3" r="3.96"/><circle cx="618.7" cy="487.3" r="3.96"/><circle cx="620.4" cy="487.3" r="3.96"/><circle cx="622.2" cy="487.3" r="3.96"/><circle cx="623.9" cy="487.3" r="3.96"/><circle cx="625.6" cy="487.3" r="3.96"/><circle cx="627.4" cy="477.9" r="3.96"/><circle cx="629.1" cy="468.9" r="3.96"/><circle cx="630.8" cy="459.2" r="3.96"/><circle cx="632.6" cy="449.8" r="3.96"/><circle cx="634.3" cy="438.0" r="3.96"/><circle cx="636.0" cy="427.1" r="3.96"/><circle cx="637.8" cy="436.1" r="3.96"/><circle cx="639.5" cy="445.7" r="3.96"/><circle cx="641.2" cy="452.5" r="3.96"/><circle cx="643.0" cy="457.8" r="3.96"/><circle cx="644.7" cy="463.7" r="3.96"/><circle cx="646.5" cy="468.9" r="3.96"/><circle cx="648.2" cy="473.4" r="3.96"/><circle cx="649.9" cy="477.8" r="3.96"/><circle cx="651.7" cy="482.0" r="3.96"/><circle cx="653.4" cy="485.5" r="3.96"/><circle cx="655.1" cy="487.3" r="3.96"/><circle cx="656.9" cy="487.3" r="3.96"/><circle cx="658.6" cy="487.3" r="3.96"/><circle cx="660.3" cy="487.3" r="3.96"/><circle cx="662.1" cy="487.3" r="3.96"/><circle cx="663.8" cy="487.3" r="3.96"/><circle cx="665.5" cy="487.3" r="3.96"/><circle cx="667.3" cy="487.3" r="3.96"/><circle cx="669.0" cy="480.5" r="3.96"/><circle cx="670.7" cy="471.5" r="3.96"/><circle cx="672.5" cy="461.8" r="3.96"/><circle cx="674.2" cy="451.5" r="3.96"/><circle cx="675.9" cy="441.2" r="3.96"/><circle cx="677.7" cy="430.9" r="3.96"/><circle cx="679.4" cy="439.3" r="3.96"/><circle cx="681.1" cy="445.1" r="3.96"/><circle cx="682.9" cy="452.8" r="3.96"/></g>
</g>
<text transform="translate(449.78 437.35) scale(0.9850 1.0000)" font-size="19.7">100</text>
<text transform="translate(460.62 465.65) scale(0.9850 1.0000)" font-size="19.7">50</text>
<text transform="translate(471.20 494.65) scale(0.9850 1.0000)" font-size="19.7">0</text>
<text transform="translate(83.74 125.16) rotate(-90) scale(0.8939 1.0345)" font-size="20.6">PRESSURE</text>
<text transform="translate(85.70 245.20) rotate(-90) scale(0.9805 1.0596)" font-size="20.6">AIR</text>
<text transform="translate(95.40 212.01) rotate(-90) scale(1.2324 1.0364)" font-size="16.2">T</text>
<text transform="translate(85.70 200.63) rotate(-90) scale(0.9868 1.0596)" font-size="20.6">EMP</text>
<text transform="translate(84.00 383.36) rotate(-90) scale(1.0029 1.0526)" font-size="20.6">MIXDEPTH</text>
<text transform="translate(86.00 502.35) rotate(-90) scale(0.8972 1.0596)" font-size="20.6">TERR</text>
<text transform="translate(96.00 451.46) rotate(-90) scale(1.2455 1.0636)" font-size="16.2">M</text>
<text transform="translate(86.13 435.95) rotate(-90) scale(0.9489 1.0897)" font-size="20.6">SL</text>
<text transform="translate(438.20 106.39) rotate(-90) scale(0.9725 1.0526)" font-size="20.6">THETA</text>
<text transform="translate(445.50 251.15) rotate(-90) scale(1.0005 1.0877)" font-size="20.6">RAINFALL</text>
<text transform="translate(445.23 384.58) rotate(-90) scale(1.0147 1.0690)" font-size="20.6">H2OMIXRA</text>
<text transform="translate(399.13 503.75) rotate(-90) scale(0.9472 1.0897)" font-size="20.6">SUN</text>
<text transform="translate(407.90 458.24) rotate(-90) scale(0.7500 1.0455)" font-size="16.2">F</text>
<text transform="translate(398.74 449.61) rotate(-90) scale(0.9775 1.0414)" font-size="20.6">LUX</text>
<text transform="translate(186.15 32.43) scale(1.0833 1.0526)" font-size="20.5" font-weight="bold" fill="#000">Figure 2 low</text>
<text transform="translate(160.00 509.20) rotate(-45) scale(1.035 1)" font-size="19.6" text-anchor="end">01/29</text>
<text transform="translate(201.60 509.20) rotate(-45) scale(1.035 1)" font-size="19.6" text-anchor="end">01/30</text>
<text transform="translate(243.20 509.20) rotate(-45) scale(1.035 1)" font-size="19.6" text-anchor="end">01/31</text>
<text transform="translate(284.80 509.20) rotate(-45) scale(1.035 1)" font-size="19.6" text-anchor="end">02/01</text>
<text transform="translate(326.40 509.20) rotate(-45) scale(1.035 1)" font-size="19.6" text-anchor="end">02/02</text>
<text transform="translate(368.00 509.20) rotate(-45) scale(1.035 1)" font-size="19.6" text-anchor="end">02/03</text>
<text transform="translate(503.00 509.20) rotate(-45) scale(1.035 1)" font-size="19.6" text-anchor="end">01/29</text>
<text transform="translate(544.62 509.20) rotate(-45) scale(1.035 1)" font-size="19.6" text-anchor="end">01/30</text>
<text transform="translate(586.24 509.20) rotate(-45) scale(1.035 1)" font-size="19.6" text-anchor="end">01/31</text>
<text transform="translate(627.86 509.20) rotate(-45) scale(1.035 1)" font-size="19.6" text-anchor="end">02/01</text>
<text transform="translate(669.48 509.20) rotate(-45) scale(1.035 1)" font-size="19.6" text-anchor="end">02/02</text>
<text transform="translate(711.10 509.20) rotate(-45) scale(1.035 1)" font-size="19.6" text-anchor="end">02/03</text>
<text transform="translate(225.64 575.75) scale(1.1218 0.9836)" font-size="20.6">Time</text>
<text transform="translate(568.64 575.75) scale(1.1218 0.9836)" font-size="20.6">Time</text>
</g>
</svg>
</body></html>
